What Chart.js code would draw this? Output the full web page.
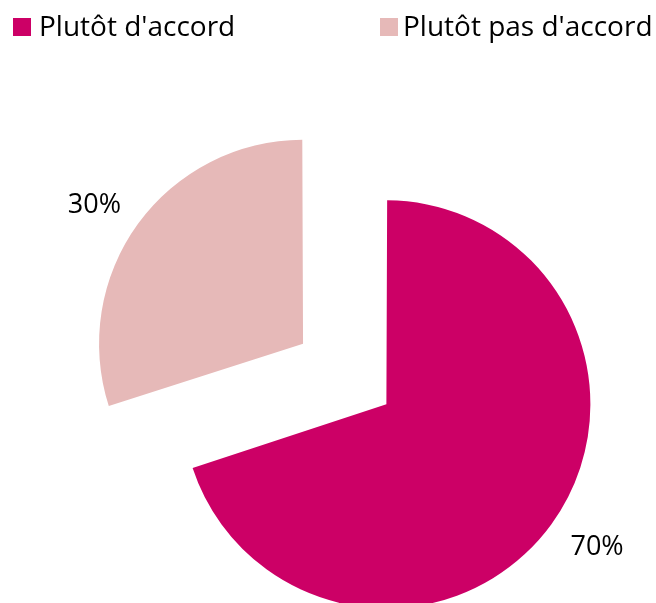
<!DOCTYPE html>
<html>
<head>
<meta charset="utf-8">
<script src="https://cdn.jsdelivr.net/npm/chart.js@4/dist/chart.umd.min.js"></script>
<style>
  html, body { margin: 0; padding: 0; background: #fff; }
  #wrap { position: relative; width: 656px; height: 603px; overflow: hidden; }
  #chart { position: absolute; left: 0; top: 0; }
  .lg-box { position: absolute; width: 18px; height: 18px; top: 18px; }
  .lg-text { position: absolute; top: 11px; font-family: "Open Sans", sans-serif; font-size: 28px; line-height: 28px; color: #000; white-space: nowrap; }
</style>
</head>
<body>
<div id="wrap">
  <canvas id="chart" width="656" height="603"></canvas>
  <div id="legend"></div>
</div>
<script>
// ---- data ----
const categories = ["Plutôt d'accord", "Plutôt pas d'accord"];
const values = [70, 30];
const valueLabels = ["70%", "30%"];
const colors = ["#CC0066", "#E6B9B8"];

// ---- HTML legend ----
const legendPos = [{ box: 13, text: 39 }, { box: 380, text: 403 }];
const legendEl = document.getElementById('legend');
categories.forEach((c, i) => {
  const b = document.createElement('div');
  b.className = 'lg-box';
  b.style.left = legendPos[i].box + 'px';
  b.style.background = colors[i];
  legendEl.appendChild(b);
  const t = document.createElement('div');
  t.className = 'lg-text';
  t.style.left = legendPos[i].text + 'px';
  t.textContent = c;
  legendEl.appendChild(t);
});

// ---- outside labels plugin ----
const outsideLabels = {
  id: 'outsideLabels',
  afterDatasetsDraw(chart) {
    const ctx = chart.ctx;
    const meta = chart.getDatasetMeta(0);
    ctx.save();
    ctx.font = '27px "Open Sans", sans-serif';
    ctx.fillStyle = '#000';
    ctx.textAlign = 'center';
    ctx.textBaseline = 'alphabetic';
    meta.data.forEach((arc, i) => {
      const p = arc.getProps(['x', 'y', 'startAngle', 'endAngle', 'outerRadius', 'circumference']);
      const mid = (p.startAngle + p.endAngle) / 2;
      const off = (arc.options.offset || 0) / 4;
      const fix = 1 - Math.sin(Math.min(Math.PI, p.circumference));
      const cx = p.x + Math.cos(mid) * off;
      const cy = p.y + Math.sin(mid) * off;
      const r = p.outerRadius + off * fix + 48.5;
      const a = mid - 0.0375;
      const lx = cx + Math.cos(a) * r;
      const ly = cy + Math.sin(a) * r;
      ctx.fillText(valueLabels[i], lx + 1, ly + 9.6);
    });
    ctx.restore();
  }
};

new Chart(document.getElementById('chart'), {
  type: 'pie',
  data: {
    labels: categories,
    datasets: [{
      data: values,
      backgroundColor: colors,
      hoverBackgroundColor: colors,
      borderWidth: 0,
      offset: [19.2, 392.8],
      hoverOffset: 0
    }]
  },
  options: {
    responsive: false,
    animation: false,
    radius: 199.2,
    layout: { padding: { left: 109, right: 0, top: 200, bottom: 0 } },
    plugins: {
      legend: { display: false },
      tooltip: { enabled: false }
    },
    events: []
  },
  plugins: [outsideLabels]
});
</script>
</body>
</html>
